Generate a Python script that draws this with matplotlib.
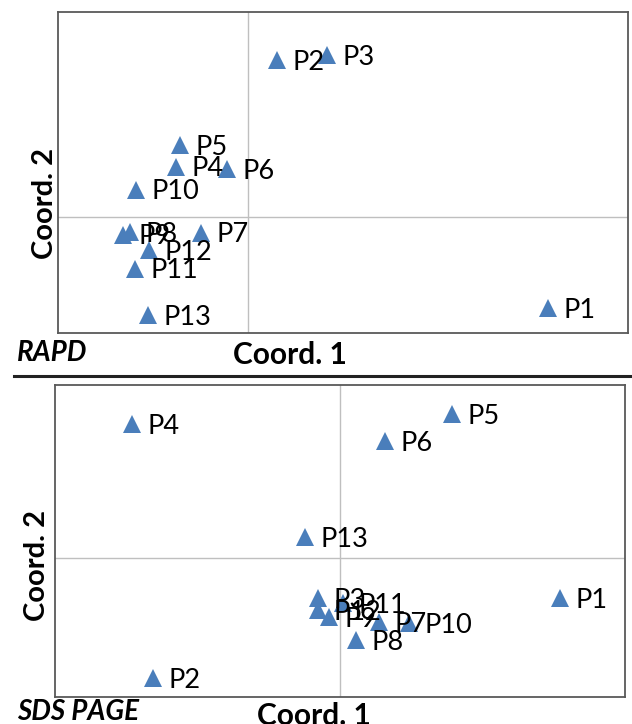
import matplotlib.pyplot as plt
from matplotlib.lines import Line2D

plt.rcParams['font.family'] = ['Lato', 'DejaVu Sans']

# point names, shared by both panels
names = ['P1', 'P2', 'P3', 'P4', 'P5', 'P6', 'P7', 'P8', 'P9', 'P10', 'P11', 'P12', 'P13']

# RAPD coordinates
rapd_x = [0.474, 0.046, 0.125, -0.114, -0.107, -0.033, -0.074, -0.186, -0.197, -0.177, -0.178, -0.156, -0.158]
rapd_y = [-0.141, 0.245, 0.253, 0.079, 0.113, 0.075, -0.024, -0.023, -0.027, 0.043, -0.080, -0.051, -0.152]

# SDS PAGE coordinates
sds_x = [0.386, -0.328, -0.039, -0.365, 0.196, 0.079, 0.068, 0.028, -0.019, 0.121, 0.005, -0.039, -0.061]
sds_y = [-0.115, -0.346, -0.115, 0.387, 0.415, 0.338, -0.185, -0.237, -0.170, -0.188, -0.130, -0.150, 0.061]

blue = '#4a7ebb'


def draw_panel(ax, xs, ys, xlim, ylim):
    ax.axhline(0, color='#bfbfbf', lw=1, zorder=0)
    ax.axvline(0, color='#bfbfbf', lw=1, zorder=0)
    ax.plot(xs, ys, '^', color=blue, markersize=12.5, markeredgewidth=0, zorder=2)
    for n, x, y in zip(names, xs, ys):
        ax.annotate(n, (x, y), xytext=(11, -1.5), textcoords='offset points',
                    va='center', ha='left', fontsize=19.5, color='black', zorder=3)
    ax.set_xlim(*xlim)
    ax.set_ylim(*ylim)
    ax.set_xticks([])
    ax.set_yticks([])
    for s in ax.spines.values():
        s.set_color('#595959')
        s.set_linewidth(1.3)


fig = plt.figure(figsize=(6.32, 7.24), dpi=100)

ax1 = fig.add_axes([0.0918, 0.540, 0.902, 0.4434])
draw_panel(ax1, rapd_x, rapd_y, (-0.3, 0.6), (-0.18, 0.32))

ax2 = fig.add_axes([0.087, 0.0373, 0.902, 0.431])
draw_panel(ax2, sds_x, sds_y, (-0.5, 0.5), (-0.4, 0.5))

# axis titles
fig.text(0.071, 1 - 203 / 724, 'Coord. 2', rotation=90, ha='center', va='center',
         fontsize=21, fontweight='bold')
fig.text(0.458, 1 - 355 / 724, 'Coord. 1', ha='center', va='center',
         fontsize=21.5, fontweight='bold')
fig.text(0.027, 1 - 353 / 724, 'RAPD', ha='left', va='center',
         fontsize=20, fontweight='bold', style='italic')

fig.text(0.058, 1 - 565 / 724, 'Coord. 2', rotation=90, ha='center', va='center',
         fontsize=21, fontweight='bold')
fig.text(0.497, 1 - 716 / 724, 'Coord. 1', ha='center', va='center',
         fontsize=21.5, fontweight='bold')
fig.text(0.027, 1 - 712 / 724, 'SDS PAGE', ha='left', va='center',
         fontsize=20, fontweight='bold', style='italic')

# separator between panels
fig.add_artist(Line2D([14 / 632, 1.0], [1 - 376 / 724, 1 - 376 / 724],
                      color='#222222', lw=2.2))

fig.savefig('out.png', dpi=100)
